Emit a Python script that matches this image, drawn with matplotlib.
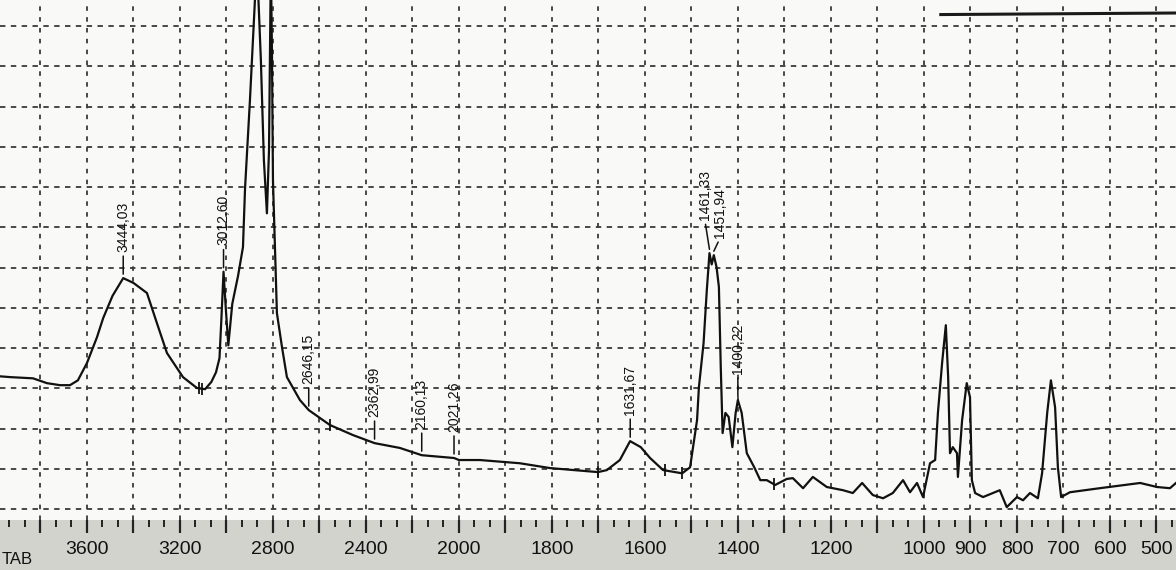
import numpy as np
import matplotlib
matplotlib.use('Agg')
import matplotlib.pyplot as plt
from matplotlib.ticker import FixedLocator, FuncFormatter

# Espectro IR (numero de onda em cm-1, intensidade em divisoes da grade)
numero_onda = [3974, 3930, 3832, 3772, 3716, 3673, 3639, 3600, 3557, 3530,
               3490, 3444, 3400, 3342, 3299, 3256, 3187, 3127, 3092, 3065,
               3045, 3030, 3022, 3012.6, 3003, 2992, 2975, 2950, 2929, 2920,
               2899, 2882, 2869, 2852, 2839, 2826, 2817, 2813, 2809, 2804,
               2800, 2783, 2761, 2740, 2684, 2646, 2555, 2456, 2363, 2254,
               2160, 2021, 2000, 1955, 1869, 1804, 1701, 1682, 1654, 1632,
               1609, 1589, 1561, 1520, 1503, 1488, 1484, 1474, 1467, 1461.3,
               1456.5, 1451.9, 1446, 1441, 1437, 1433, 1427, 1420, 1412, 1405,
               1400.2, 1392, 1381, 1365, 1352, 1338, 1320, 1295, 1282, 1260,
               1239, 1209, 1174, 1153, 1133, 1110, 1088, 1067, 1045, 1030,
               1015, 1002, 987, 976, 970, 961, 953, 948, 944, 938,
               929, 927, 918, 908, 901, 897, 890, 873, 852, 837,
               822, 800, 787, 772, 755, 746, 735, 727, 718, 712,
               705, 686, 622, 535, 499, 471, 458]
absorbancia = [3.30, 3.28, 3.25, 3.13, 3.08, 3.08, 3.20, 3.63, 4.27, 4.75,
               5.30, 5.74, 5.62, 5.37, 4.62, 3.88, 3.28, 3.01, 2.98, 3.16,
               3.40, 3.75, 4.70, 5.90, 5.00, 4.07, 5.10, 5.80, 6.51, 7.98,
               10.16, 12.15, 13.60, 11.16, 8.67, 7.35, 8.92, 11.16, 13.60, 11.16,
               8.17, 4.87, 4.02, 3.28, 2.71, 2.46, 2.09, 1.84, 1.64, 1.52,
               1.34, 1.27, 1.22, 1.22, 1.14, 1.02, 0.92, 0.97, 1.22, 1.69,
               1.54, 1.27, 0.97, 0.89, 1.04, 2.21, 3.03, 4.12, 5.44, 6.36,
               6.08, 6.31, 6.01, 5.52, 3.53, 1.89, 2.39, 2.29, 1.54, 2.39,
               2.71, 2.39, 1.39, 1.04, 0.72, 0.72, 0.60, 0.75, 0.77, 0.52,
               0.80, 0.55, 0.47, 0.40, 0.65, 0.35, 0.27, 0.40, 0.72, 0.42,
               0.65, 0.30, 1.14, 1.22, 2.39, 3.63, 4.57, 3.28, 1.39, 1.54,
               1.39, 0.80, 2.21, 3.13, 2.78, 0.72, 0.40, 0.30, 0.40, 0.47,
               0.05, 0.30, 0.22, 0.40, 0.27, 0.89, 2.39, 3.20, 2.53, 1.04,
               0.30, 0.42, 0.52, 0.65, 0.55, 0.52, 0.65]

# picos marcados pelo equipamento
rotulos_picos = ['3444,03', '3012,60', '2646,15', '2362,99', '2160,13',
                 '2021,26', '1631,67', '1461,33', '1451,94', '1400,22']
posicoes_picos = [3444.03, 3012.60, 2646.15, 2362.99, 2160.13,
                  2021.26, 1631.67, 1461.33, 1451.94, 1400.22]

# marcas de integracao sobre a curva
marcas_integracao = [3120, 3105, 2555, 1701, 1557, 1520, 1322]

rotulos_eixo = [3600, 3200, 2800, 2400, 2000, 1800, 1600, 1400, 1200,
                1000, 900, 800, 700, 600, 500]


def comprime(w):
    # acima de 2000 cm-1 o papel usa metade da escala
    w = np.asarray(w, dtype=float)
    return np.where(w > 2000, 2000 + (w - 2000) / 2, w)


def expande(u):
    u = np.asarray(u, dtype=float)
    return np.where(u > 2000, 2000 + (u - 2000) * 2, u)


plt.rcParams['font.family'] = ['Liberation Sans', 'DejaVu Sans']

fig = plt.figure(figsize=(11.76, 5.70), dpi=100, facecolor='#d3d3ce')
ax = fig.add_axes([0, 50 / 570, 1, 520 / 570])
ax.set_facecolor('#f9f9f7')
ax.set_xscale('function', functions=(comprime, expande))
ax.set_xlim(3974, 458)
ax.set_ylim(-0.27, 12.65)

for lado in ax.spines.values():
    lado.set_visible(False)

# grade pontilhada do papel
linhas_grade = list(range(4000, 2000, -200)) + list(range(2000, 399, -100))
for w in linhas_grade:
    ax.axvline(w, color='#3a3a3a', lw=1.3, ls=(0, (2.5, 3.5)), zorder=1)
for y in range(13):
    ax.axhline(y, color='#3a3a3a', lw=1.3, ls=(0, (3, 3)), zorder=1)

menores = []
for a, b in zip(linhas_grade[:-1], linhas_grade[1:]):
    menores += [a + (b - a) / 3, a + 2 * (b - a) / 3]

ax.xaxis.set_major_locator(FixedLocator(linhas_grade))
ax.xaxis.set_minor_locator(FixedLocator(menores))
ax.xaxis.set_major_formatter(
    FuncFormatter(lambda v, pos: f'{v:.0f}' if round(v) in rotulos_eixo else ''))
ax.tick_params(axis='x', which='major', direction='out', length=9, width=1.6,
               color='#222222', pad=6, labelsize=14, labelcolor='#111111')
ax.tick_params(axis='x', which='minor', direction='out', length=5, width=1.4,
               color='#222222')
ax.tick_params(axis='y', left=False, labelleft=False)

ax.plot(numero_onda, absorbancia, color='#111111', lw=1.6,
        solid_joinstyle='round', zorder=3)

onda_cresc = np.array(numero_onda)[::-1]
abs_cresc = np.array(absorbancia)[::-1]

for w in marcas_integracao:
    y = np.interp(w, onda_cresc, abs_cresc)
    ax.vlines(w, y - 0.15, y + 0.15, color='#111111', lw=1.3, zorder=3)

# deslocamento do texto (pontos) para os rotulos que se sobrepoem
deslocamentos = {'1461,33': (-3.3, 21), '1451,94': (4.5, 9.5)}

for rotulo, w in zip(rotulos_picos, posicoes_picos):
    y = np.interp(w, onda_cresc, abs_cresc)
    dx, dy = deslocamentos.get(rotulo, (0, 16))
    ax.annotate(rotulo, xy=(w, y + 0.1), xytext=(dx, dy),
                textcoords='offset points', rotation=90,
                ha='center', va='bottom', fontsize=10, color='#111111',
                arrowprops=dict(arrowstyle='-', lw=1.1, color='#111111',
                                relpos=(0.5, 0.0), shrinkA=1, shrinkB=0),
                zorder=4)

# borda escura do papel no canto superior direito
ax.plot([0.80, 1.0], [0.972, 0.975], transform=ax.transAxes,
        color='#1a1a1a', lw=2.2, clip_on=False)

fig.text(0.001, 11 / 570, 'TAB', fontsize=12, ha='left', va='center',
         color='#111111')

fig.savefig('out.png', dpi=100, facecolor=fig.get_facecolor())
